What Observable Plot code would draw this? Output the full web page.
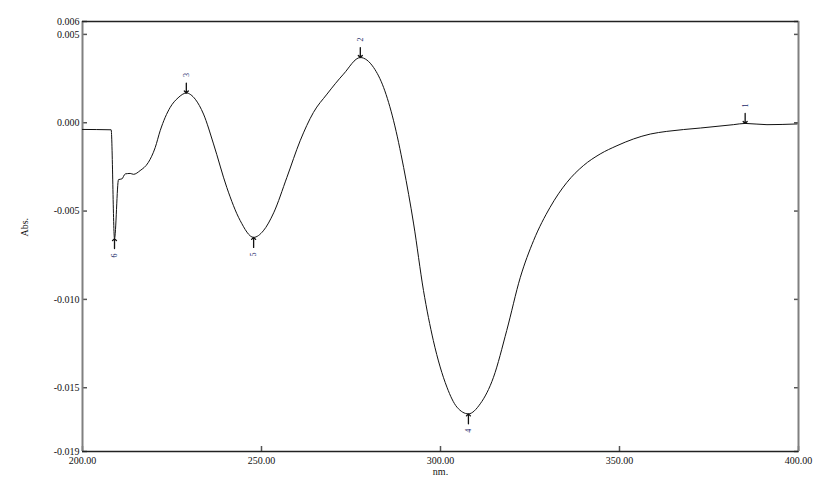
<!DOCTYPE html>
<html>
<head>
<meta charset="utf-8">
<script src="https://cdn.jsdelivr.net/npm/d3@7"></script>
<script src="https://cdn.jsdelivr.net/npm/@observablehq/plot@0.6"></script>
<style>
  html, body { margin: 0; padding: 0; background: #fff; }
  #chart { width: 815px; height: 481px; }
</style>
</head>
<body>
<div id="chart"></div>
<script>
// Spectrum (wavelength in nm, absorbance)
const wavelength = [
  200.0, 208.0, 208.94, 210.06, 211.0, 211.93, 213.32, 214.25, 216.1, 218.35,
  220.3, 221.7, 224.5, 226.7, 229.0, 231.5, 233.8, 236.6, 240.3, 244.05,
  247.8, 250.5, 253.4, 257.1, 260.8, 264.5, 268.3, 272.9, 277.6, 281.3,
  284.1, 286.9, 289.7, 292.5, 295.25, 298.0, 301.8, 304.6, 307.8, 311.1,
  314.8, 318.5, 322.3, 326.0, 330.6, 335.3, 339.9, 344.6, 349.3, 353.9,
  358.6, 363.2, 372.6, 381.8, 385.1, 391.2, 399.6
];
const absorbance = [
  -0.00038, -0.00040, -0.00656, -0.00322, -0.00318, -0.00290, -0.00287, -0.00292, -0.00271, -0.00226,
  -0.00141, -0.00045, 0.00087, 0.00141, 0.00168, 0.00133, 0.00049, -0.00120, -0.00366, -0.00554,
  -0.00649, -0.00612, -0.00510, -0.00309, -0.00102, 0.00058, 0.00162, 0.00275, 0.00369, 0.00313,
  0.00200, 0.00011, -0.00253, -0.00573, -0.00950, -0.01233, -0.01497, -0.01610, -0.01648, -0.01591,
  -0.01441, -0.01176, -0.00875, -0.00667, -0.00479, -0.00338, -0.00243, -0.00177, -0.00130, -0.00092,
  -0.00064, -0.00049, -0.00030, -0.00011, -0.00004, -0.00011, -0.00007
];

// Peak picks
const peakNo   = ["1", "2", "3", "4", "5", "6"];
const peakNm   = [385.1, 277.6, 229.0, 307.8, 247.8, 208.94];
const peakAbs  = [-0.00004, 0.00369, 0.00168, -0.01648, -0.00649, -0.00656];
const peakType = ["max", "max", "max", "min", "min", "min"];

// Axes
const xDomain = [200, 400];
const yDomain = [-0.01861, 0.00573];
const xTicks = [200, 250, 300, 350, 400];
const yTicks = [0.00573, 0.005, 0.0, -0.005, -0.010, -0.015, -0.01861];
const yTickLabels = ["0.006", "0.005", "0.000", "-0.005", "-0.010", "-0.015", "-0.019"];
const xTitle = "nm.";
const yTitle = "Abs.";

const spectrum = wavelength.map((x, i) => ({nm: x, abs: absorbance[i]}));
const peaks = peakNo.map((n, i) => ({no: n, nm: peakNm[i], abs: peakAbs[i], type: peakType[i]}));
const maxima = peaks.filter(d => d.type === "max");
const minima = peaks.filter(d => d.type === "min");

const chart = Plot.plot({
  width: 815,
  height: 481,
  marginLeft: 82,
  marginRight: 17,
  marginTop: 21,
  marginBottom: 30,
  x: {domain: xDomain},
  y: {domain: yDomain},
  style: {fontFamily: "'Liberation Serif', 'Times New Roman', serif", fontSize: "10px", color: "#111", background: "#fff"},
  marks: [
    // tick labels
    Plot.axisX({ticks: xTicks, tickSize: 0, tickPadding: 5, tickFormat: d => d.toFixed(2), label: null}),
    Plot.axisY({ticks: yTicks, tickSize: 0, tickPadding: 3, tickFormat: d => yTickLabels[yTicks.indexOf(d)], label: null}),
    // inward ticks
    Plot.axisX({ticks: xTicks, tickSize: 5, dy: -5, text: null, label: null, stroke: "#555", strokeWidth: 1.5}),
    Plot.axisY({anchor: "left", ticks: yTicks, tickSize: 5, dx: 5, text: null, label: null, stroke: "#555", strokeWidth: 1.5}),
    Plot.axisY({anchor: "right", ticks: yTicks, tickSize: 5, dx: -5, text: null, label: null, stroke: "#555", strokeWidth: 1.5}),
    // frame
    Plot.ruleX(xDomain, {stroke: "#808080", strokeWidth: 2}),
    Plot.ruleY(yDomain, {stroke: "#222", strokeWidth: 1.3}),
    // titles
    Plot.text([xTitle], {frameAnchor: "bottom", dy: 23, text: d => d, fontSize: 10}),
    Plot.text([yTitle], {frameAnchor: "left", dx: -58, text: d => d, rotate: -90, fontSize: 10}),
    // spectrum
    Plot.line(spectrum, {x: "nm", y: "abs", curve: "monotone-x", stroke: "#111", strokeWidth: 1}),
    // peak arrows
    Plot.vector(maxima, {x: "nm", y: "abs", length: 10, rotate: 180, anchor: "end", stroke: "#111", strokeWidth: 1.3}),
    Plot.vector(minima, {x: "nm", y: "abs", length: 10, rotate: 0, anchor: "end", stroke: "#111", strokeWidth: 1.3}),
    // peak labels
    Plot.text(maxima, {x: "nm", y: "abs", text: "no", rotate: -90, dy: -18, fontSize: 8, fill: "#1d2b6b"}),
    Plot.text(minima, {x: "nm", y: "abs", text: "no", rotate: -90, dy: 17, fontSize: 8, fill: "#1d2b6b"})
  ]
});
document.getElementById("chart").appendChild(chart);
</script>
</body>
</html>
